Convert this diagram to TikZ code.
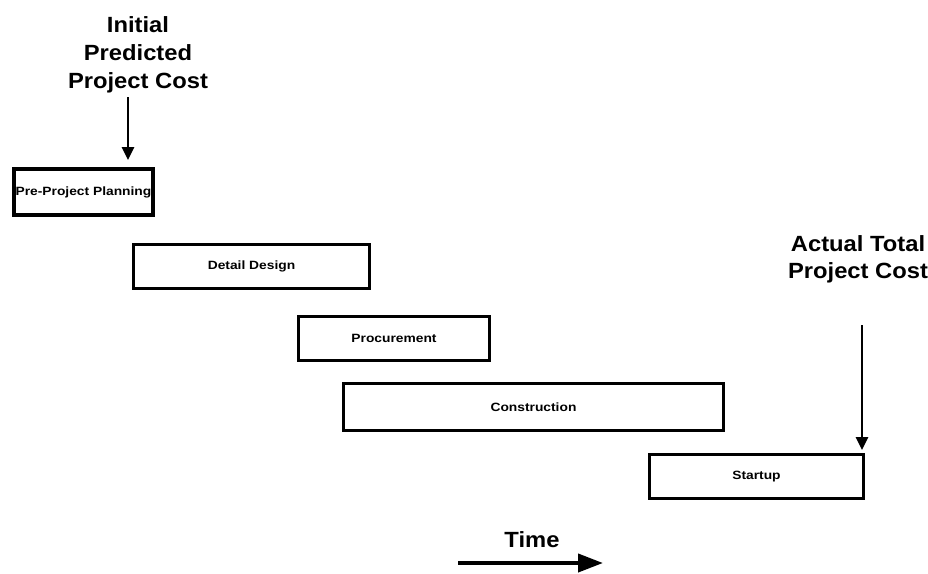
\documentclass[tikz,border=0pt]{standalone}
\usepackage{fontspec}
\setmainfont{Liberation Sans}
\newfontfamily\titlefont{Liberation Sans}[FakeStretch=1.08]
\newfontfamily\boxfont{Liberation Sans}[FakeStretch=1.15]
\usetikzlibrary{arrows.meta}
\tikzset{
  phase/.style={draw=black, line width=3.2pt, fill=white, inner sep=0pt,
    font=\boxfont\bfseries\fontsize{12}{14}\selectfont},
  heading/.style={align=center, inner sep=0pt,
    font=\titlefont\bfseries\fontsize{22}{28}\selectfont},
  marker/.style={line width=2.8pt, -{Triangle[length=13pt,width=12pt]}},
  timearrow/.style={line width=4pt, -{Triangle[length=25pt,width=18pt]}}
}
\begin{document}
\begin{tikzpicture}[x=1pt,y=-1pt]
\useasboundingbox (0,0) rectangle (928,573);

% project phases
\node[phase, line width=4pt, minimum width=139pt, minimum height=46pt] (plan) at (83.5,192) {Pre-Project Planning};
\node[phase, minimum width=236pt, minimum height=44pt] (design) at (251.5,266.5) {Detail Design};
\node[phase, minimum width=191pt, minimum height=44pt] (procure) at (394,338.5) {Procurement};
\node[phase, minimum width=380pt, minimum height=47pt] (construct) at (533.5,407) {Construction};
\node[phase, minimum width=214pt, minimum height=44pt] (startup) at (756.5,476.5) {Startup};

% cost estimates (base anchor sits on the last line)
\node[heading, anchor=base] (initial) at (138,88) {Initial\\Predicted\\Project Cost};
\node[heading, anchor=base, font=\titlefont\bfseries\fontsize{22}{26.6}\selectfont] (actual) at (858,278.3) {Actual Total\\Project Cost};

\coordinate (initialfoot) at (128,97);
\coordinate (plantop) at (128,160);
\draw[marker] (initialfoot) -- (plantop);

\coordinate (actualfoot) at (862,325);
\coordinate (startuptop) at (862,450);
\draw[marker] (actualfoot) -- (startuptop);

% time axis
\node[heading, anchor=base] (time) at (532,547) {Time};
\coordinate (timestart) at (458,563);
\coordinate (timeend) at (603,563);
\draw[timearrow] (timestart) -- (timeend);
\end{tikzpicture}
\end{document}
